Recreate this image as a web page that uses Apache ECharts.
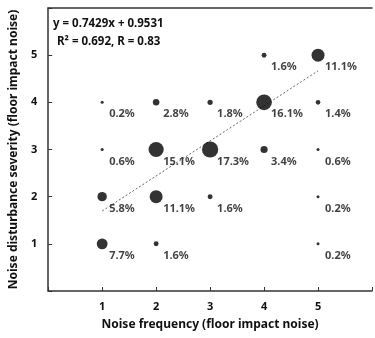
<!DOCTYPE html>
<html><head><meta charset="utf-8">
<script src="https://cdn.jsdelivr.net/npm/echarts@6/dist/echarts.min.js"></script>
<style>html,body{margin:0;padding:0;background:#fff}#c{width:375px;height:338px}</style>
</head><body><div id="c"></div>
<script>
// Noise frequency (x), disturbance severity (y), share of responses (%)
const freq     = [1, 2, 5,  1, 2, 3, 5,  1, 2, 3, 4, 5,  1, 2, 3, 4, 5,  4, 5];
const severity = [1, 1, 1,  2, 2, 2, 2,  3, 3, 3, 3, 3,  4, 4, 4, 4, 4,  5, 5];
const percent  = [7.7, 1.6, 0.2,  5.8, 11.1, 1.6, 0.2,  0.6, 15.1, 17.3, 3.4, 0.6,  0.2, 2.8, 1.8, 16.1, 1.4,  1.6, 11.1];
const xTicks = ['1','2','3','4','5'];
const yTicks = ['1','2','3','4','5'];
const slope = 0.7429, intercept = 0.9531;
const trendX = [1, 5];
const eqLines = ['y = 0.7429x + 0.9531', 'R\u00B2 = 0.692, R = 0.83'];

const pts = freq.map((x, i) => [x, severity[i], percent[i]]);
const trend = trendX.map(x => [x, slope * x + intercept]);
const font = '"Noto Sans", "DejaVu Sans", sans-serif';
const ink = '#111';
const chart = echarts.init(document.getElementById('c'));
chart.setOption({
  animation: false,
  grid: { left: 43, right: -2, top: 8, bottom: 47 },
  xAxis: [{
    type: 'value', min: 0, max: 6, interval: 1,
    name: 'Noise frequency (floor impact noise)', nameLocation: 'middle', nameGap: 28,
    nameTextStyle: { fontFamily: font, fontWeight: 'bold', fontSize: 12, color: ink },
    axisLine: { lineStyle: { color: '#333', width: 1.5 } },
    axisTick: { inside: true, length: 4, lineStyle: { color: '#333' } },
    axisLabel: { margin: 10, fontFamily: font, fontWeight: 'bold', fontSize: 11, color: ink,
      formatter: v => (xTicks.indexOf(String(v)) >= 0 ? String(v) : '') },
    splitLine: { show: false }
  }, {
    type: 'value', min: 0, max: 6, position: 'top',
    axisLine: { show: true, lineStyle: { color: '#333', width: 1.5 } },
    axisTick: { show: false }, axisLabel: { show: false }, splitLine: { show: false }
  }],
  yAxis: {
    type: 'value', min: 0, max: 6, interval: 1,
    name: 'Noise disturbance severity (floor impact noise)', nameLocation: 'middle', nameGap: 23,
    nameTextStyle: { fontFamily: font, fontWeight: 'bold', fontSize: 12, color: ink },
    axisLine: { show: true, lineStyle: { color: '#333', width: 1.5 } },
    axisTick: { inside: true, length: 4, lineStyle: { color: '#333' } },
    axisLabel: { margin: 11, fontFamily: font, fontWeight: 'bold', fontSize: 11, color: ink,
      formatter: v => (yTicks.indexOf(String(v)) >= 0 ? String(v) : '') },
    splitLine: { show: false }
  },
  series: [{
    type: 'line', data: trend, symbol: 'none', silent: true,
    lineStyle: { color: '#666', width: 1, type: [2, 2] }, z: 1
  }, {
    type: 'scatter', data: pts, z: 2,
    symbolSize: d => Math.max(3, Math.sqrt(d[2]) * 3.9),
    itemStyle: { color: '#000' },
    label: {
      show: true, position: 'inside', align: 'left', verticalAlign: 'middle', offset: [7, 12],
      formatter: p => p.value[2].toFixed(1) + '%',
      fontFamily: font, fontWeight: 'bold', fontSize: 11, color: ink
    }
  }],
  graphic: [
    { type: 'text', left: 53, top: 18, style: { text: eqLines[0], font: 'bold 11.5px ' + font, fill: ink } },
    { type: 'text', left: 57, top: 36, style: { text: eqLines[1], font: 'bold 11.5px ' + font, fill: ink } }
  ]
});
</script></body></html>
